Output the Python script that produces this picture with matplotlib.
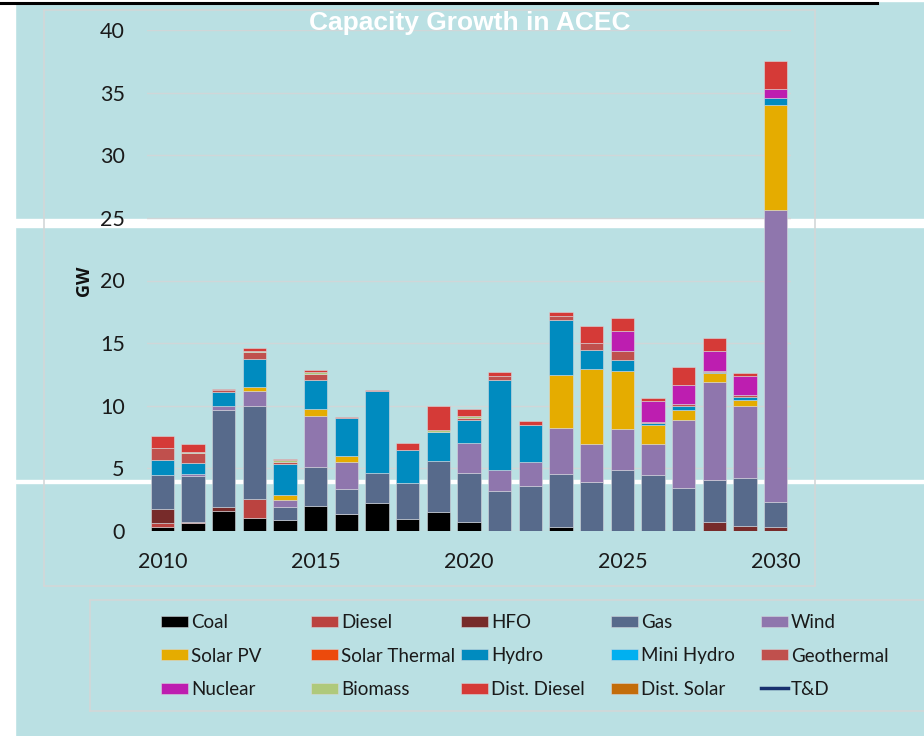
import numpy as np
import matplotlib
matplotlib.use("Agg")
import matplotlib.pyplot as plt
from matplotlib.patches import Rectangle
from matplotlib.lines import Line2D

years = list(range(2010, 2031))

coal        = [0.32, 0.64, 1.60, 1.06, 0.85, 2.00, 1.33, 2.24, 0.96, 1.49, 0.75, 0, 0, 0.29, 0, 0, 0, 0, 0, 0, 0]
diesel      = [0.30, 0.05, 0, 1.46, 0, 0, 0.05, 0, 0, 0, 0, 0, 0, 0, 0, 0, 0, 0, 0, 0, 0]
hfo         = [1.15, 0, 0.32, 0, 0, 0, 0, 0, 0, 0, 0, 0, 0, 0, 0, 0, 0, 0, 0.69, 0.40, 0.29]
gas         = [2.70, 3.70, 7.78, 7.48, 1.06, 3.10, 1.97, 2.42, 2.85, 4.13, 3.86, 3.17, 3.57, 4.23, 3.94, 4.90, 4.47, 3.40, 3.38, 3.81, 2.05]
wind        = [0, 0.20, 0.27, 1.17, 0.59, 4.10, 2.18, 0, 0, 0, 2.40, 1.73, 1.97, 3.73, 3.00, 3.22, 2.48, 5.48, 7.82, 5.75, 23.30]
solar_pv    = [0, 0, 0, 0.32, 0.37, 0.56, 0.48, 0, 0, 0, 0, 0, 0, 4.18, 5.99, 4.63, 1.52, 0.80, 0.72, 0.53, 8.38]
solar_th    = [0] * 21
hydro       = [1.20, 0.85, 1.15, 2.24, 2.50, 2.32, 3.03, 6.52, 2.69, 2.29, 1.89, 7.13, 2.93, 4.45, 1.54, 0.93, 0.13, 0.32, 0.10, 0.24, 0.59]
mini_hydro  = [0] * 21
geothermal  = [0.93, 0.75, 0.12, 0.56, 0.16, 0.43, 0, 0, 0, 0, 0.15, 0.37, 0, 0.32, 0.53, 0.67, 0.10, 0.10, 0.10, 0.10, 0]
nuclear     = [0, 0, 0, 0, 0, 0, 0, 0, 0, 0, 0, 0, 0, 0, 0, 1.60, 1.68, 1.54, 1.57, 1.57, 0.67]
biomass     = [0, 0.15, 0, 0.05, 0.10, 0.16, 0, 0, 0, 0.19, 0.10, 0, 0, 0, 0, 0, 0, 0, 0, 0, 0]
dist_diesel = [1.00, 0.64, 0.12, 0.27, 0.10, 0.16, 0.10, 0.10, 0.53, 1.86, 0.59, 0.32, 0.32, 0.32, 1.33, 1.09, 0.27, 1.49, 1.04, 0.24, 2.26]
dist_solar  = [0] * 21

series_names = ["Coal", "Diesel", "HFO", "Gas", "Wind", "Solar PV", "Solar Thermal", "Hydro",
                "Mini Hydro", "Geothermal", "Nuclear", "Biomass", "Dist. Diesel", "Dist. Solar"]
series_vals = [coal, diesel, hfo, gas, wind, solar_pv, solar_th, hydro, mini_hydro,
               geothermal, nuclear, biomass, dist_diesel, dist_solar]
series_colors = ["#000000", "#bb4340", "#772b2a", "#576a8b", "#8f76ad", "#e5ac00", "#ec4a0c",
                 "#008bbf", "#00b0f0", "#c0504d", "#bd1eb0", "#afc97b", "#d53a37", "#c36d0a"]
legend_labels = series_names[:] + ["T&D"]
td_color = "#17306e"

title = "Capacity Growth in ACEC"
ylabel = "GW"
xticks = [2010, 2015, 2020, 2025, 2030]
yticks = [0, 5, 10, 15, 20, 25, 30, 35, 40]

W, H = 924, 736
BG = "#bae0e3"
fig = plt.figure(figsize=(W / 100, H / 100), dpi=100, facecolor=BG)

def fx(x):
    return x / W

def fy(y):
    return 1 - y / H

# decorative background strips / frames
fig.add_artist(Rectangle((0, 0), fx(15), 1, transform=fig.transFigure, color="white", zorder=-3))
fig.add_artist(Rectangle((0, fy(227)), 1, fy(219) - fy(227), transform=fig.transFigure, color="white", zorder=-3))
fig.add_artist(Rectangle((fx(15), fy(483)), 1, fy(480) - fy(483), transform=fig.transFigure, color="white", zorder=-3))
fig.add_artist(Rectangle((0, 1), 1, -fy(0) + fy(1), transform=fig.transFigure, color="white", zorder=-3))
fig.add_artist(Line2D([0, fx(877)], [fy(2.5), fy(2.5)], transform=fig.transFigure, color="black", lw=2.2, zorder=-2))
gc = "#d3d7d8"
for xs, ys in [([44, 44], [10, 586]), ([44, 815], [586, 586]), ([815, 815], [10, 586]), ([44, 815], [10, 10]),
               ([90, 90], [600, 711]), ([90, 924], [600, 600]), ([90, 924], [711, 711])]:
    fig.add_artist(Line2D([fx(v) for v in xs], [fy(v) for v in ys], transform=fig.transFigure,
                          color=gc, lw=1.2, zorder=-2))

ax = fig.add_axes([fx(147), fy(531), fx(791) - fx(147), fy(30) - fy(531)])
ax.set_facecolor("none")
ax.set_xlim(2009.5, 2030.5)
ax.set_ylim(0, 40)
for s in ax.spines.values():
    s.set_visible(False)
ax.set_yticks(yticks)
ax.set_xticks(xticks)
ax.yaxis.grid(True, color="#d0d6d8", lw=1.0)
ax.set_axisbelow(True)
ax.tick_params(length=0, labelsize=15.5, colors="#1a1a1a")
ax.tick_params(axis="y", pad=16)
ax.tick_params(axis="x", pad=15)
for lab in ax.get_xticklabels() + ax.get_yticklabels():
    lab.set_fontfamily("Lato")

x = np.array(years)
bottom = np.zeros(len(years))
for name, vals, col in zip(series_names, series_vals, series_colors):
    v = np.array(vals, dtype=float)
    m = v > 0
    if m.any():
        ax.bar(x[m], v[m], bottom=bottom[m], width=0.77, color=col,
               edgecolor=(0.86, 0.86, 0.88, 0.55), linewidth=0.7, zorder=3)
    bottom += v

ax.set_ylabel(ylabel, fontfamily="Open Sans", fontweight="bold", fontsize=13, color="#111111", labelpad=5)

fig.text(fx(470), fy(23), title, ha="center", va="center", color="white",
         fontfamily="Liberation Sans", fontweight="bold", fontsize=19)

# legend (5 equal columns, 3 rows)
col_x = [160.7, 310.7, 460.7, 610.7, 760.7]
row_y = [621, 654.5, 688]
for i, lab in enumerate(legend_labels):
    r, c = divmod(i, 5)
    x0, yc = col_x[c], row_y[r]
    if lab == "T&D":
        fig.add_artist(Line2D([fx(x0), fx(x0 + 27.5)], [fy(yc), fy(yc)], transform=fig.transFigure,
                              color=td_color, lw=2.5))
    else:
        fig.add_artist(Rectangle((fx(x0), fy(yc + 5.5)), fx(27.5), fy(yc - 5.5) - fy(yc + 5.5),
                                 transform=fig.transFigure, facecolor=series_colors[i],
                                 edgecolor=(0.85, 0.85, 0.87, 0.6), lw=0.6))
    fig.text(fx(x0 + 30.5), fy(yc), lab, ha="left", va="center_baseline", fontfamily="Lato",
             fontsize=13.5, color="#1a1a1a")

fig.savefig("out.png", dpi=100, facecolor=BG)
